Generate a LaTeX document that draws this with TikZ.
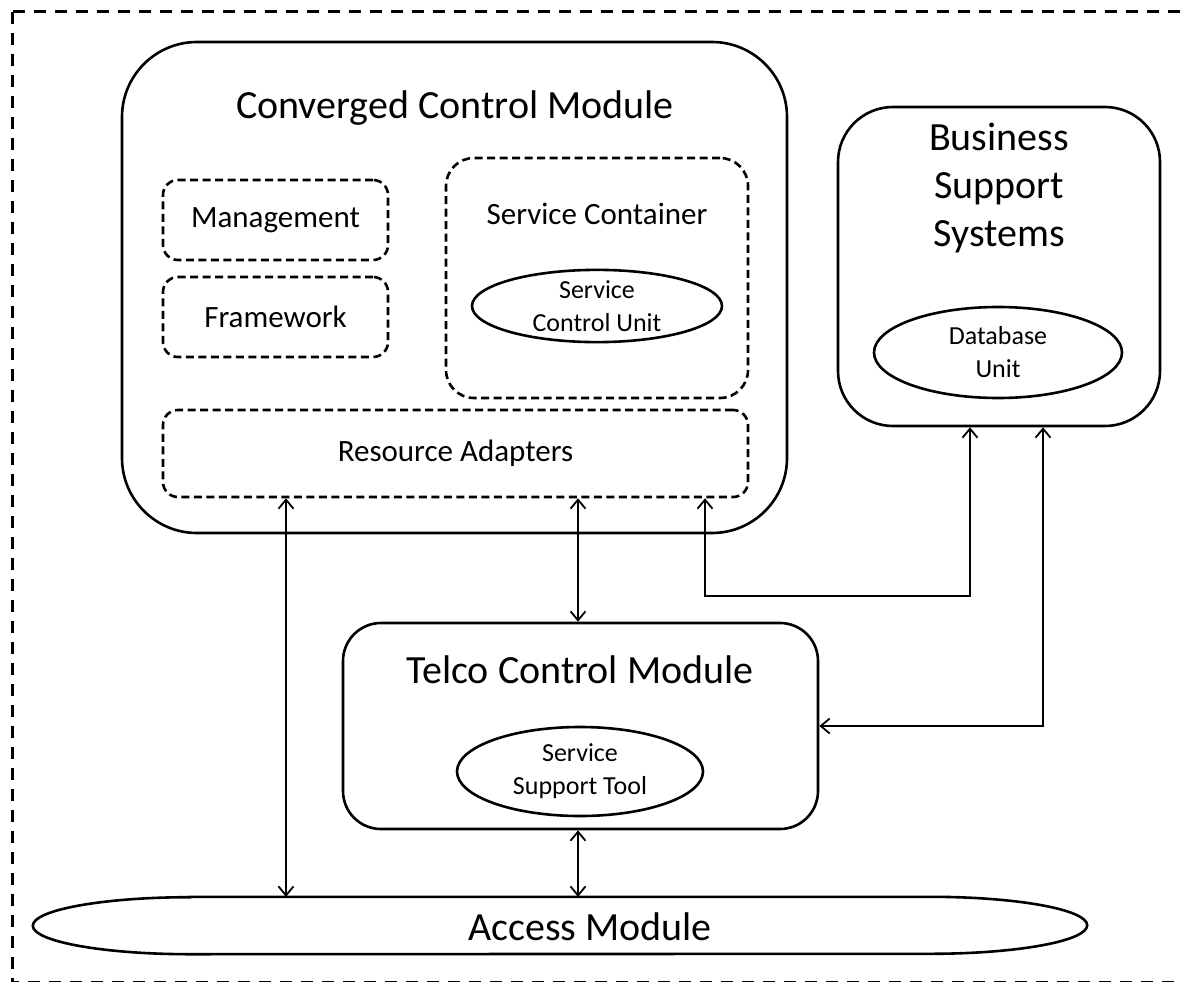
\documentclass[tikz,border=0pt]{standalone}
\usepackage{fontspec}
\setmainfont{Carlito}
\usetikzlibrary{shapes.geometric, arrows.meta}

\newcommand{\bigtxt}{\fontsize{40}{48}\selectfont}
\newcommand{\midtxt}{\fontsize{31}{37}\selectfont}
\newcommand{\smalltxt}{\fontsize{26}{33}\selectfont}

\tikzset{
	module/.style={draw, line width=2.6pt, rounded corners=#1, inner sep=0pt},
	part/.style={draw, dash pattern=on 8pt off 4.5pt, line width=2.6pt, rounded corners=#1, inner sep=0pt},
	unit/.style={draw, ellipse, line width=2.6pt, inner sep=0pt, align=center, font=\smalltxt},
	conn/.style={{Straight Barb[length=9pt,width=15pt]}-{Straight Barb[length=9pt,width=15pt]}, line width=1.8pt},
}

\begin{document}
\begin{tikzpicture}[x=1pt, y=-1pt]
	% Page size of the picture
	\useasboundingbox (0,0) rectangle (1183,982);
	\clip (0,0) rectangle (1183,982);

	% Draw the outer dashed frame
	\draw[line width=3pt, dash pattern=on 12pt off 9pt] (12,12) rectangle (1200,982.8);

	% Converged control module and its parts
	\node[module=75pt, minimum width=665pt, minimum height=491pt] (ccm) at (454.5,287.5) {};
	\node[font=\bigtxt] (ccmtitle) at (455,108) {Converged Control Module};
	\node[part=15pt, minimum width=225pt, minimum height=80pt, font=\midtxt] (mgmt) at (275.5,220) {Management};
	\node[part=15pt, minimum width=225pt, minimum height=80pt, font=\midtxt] (frame) at (275.5,317) {Framework};
	\node[part=28pt, minimum width=302pt, minimum height=240pt] (sc) at (597,278) {};
	\node[font=\midtxt] (sctitle) at (597,214) {Service Container};
	\node[unit, minimum width=250pt, minimum height=68pt] (scu) at (597,306) {Service\\Control Unit};
	\node[part=15pt, minimum width=585pt, minimum height=87pt, font=\midtxt] (ra) at (455.5,453.5) {Resource Adapters};

	% Business support systems
	\node[module=55pt, minimum width=322pt, minimum height=319pt] (bss) at (999,266.5) {};
	\node[font=\bigtxt, align=center] (bsstitle) at (999,188) {Business\\Support\\Systems};
	\node[unit, minimum width=248pt, minimum height=91pt] (db) at (998,352.5) {Database\\Unit};

	% Telco control module
	\node[module=38pt, minimum width=475pt, minimum height=206pt] (tcm) at (580.5,726) {};
	\node[font=\bigtxt] (tcmtitle) at (580,670) {Telco Control Module};
	\node[unit, minimum width=246pt, minimum height=89pt] (sst) at (580,771.5) {Service\\Support Tool};

	% Access module (flat ellipse)
	\node[minimum width=740pt, minimum height=57pt, inner sep=0pt] (access) at (560,925.5) {};
	\node[font=\bigtxt] (accesstitle) at (590,927) {Access Module};
	\draw[line width=2.6pt] (access.north west) -- (access.north east)
		arc[start angle=90, end angle=-90, x radius=157pt, y radius=28.5pt]
		-- (access.south west)
		arc[start angle=270, end angle=90, x radius=157pt, y radius=28.5pt] -- cycle;

	% Connectors
	\draw[conn] ([xshift=-169.5pt]ra.south) -- ([xshift=-169.5pt]ra.south |- access.north);
	\draw[conn] ([xshift=122.5pt]ra.south) -- ([xshift=122.5pt]ra.south |- tcm.north);
	\draw[conn] ([xshift=-2.5pt]tcm.south) -- ([xshift=-2.5pt]tcm.south |- access.north);
	\draw[conn] ([xshift=249.5pt]ra.south) -- ++(0,98) -| ([xshift=-29pt]bss.south);
	\draw[conn] ([xshift=44pt]bss.south) |- (tcm.east);
\end{tikzpicture}
\end{document}
